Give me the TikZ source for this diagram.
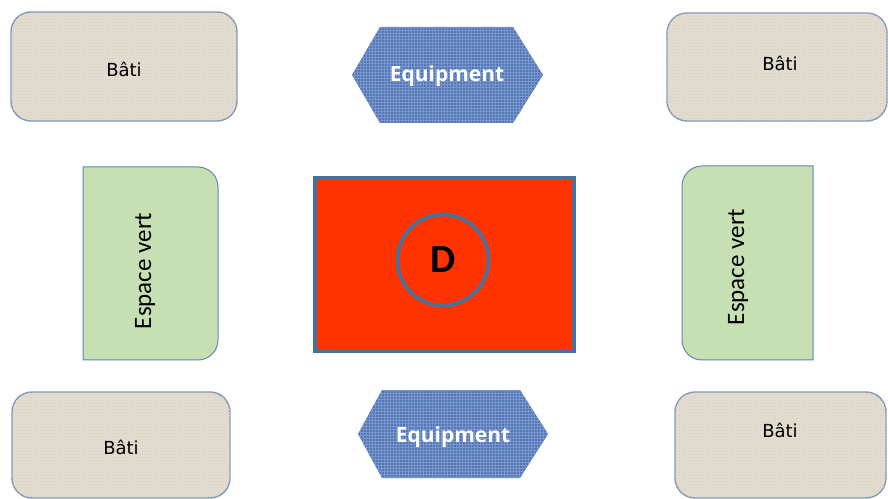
\documentclass[tikz,border=0pt]{standalone}
\usepackage{fontspec}
\setmainfont{DejaVu Sans}
\newfontfamily\carl{Carlito}
\newfontfamily\opens{Open Sans}
\usetikzlibrary{patterns}
\definecolor{batifill}{HTML}{E4DED2}
\definecolor{batidots}{HTML}{D3CBBB}
\definecolor{batiline}{HTML}{7F97BA}
\definecolor{vertfill}{HTML}{C6E0B4}
\definecolor{vertline}{HTML}{5F88B6}
\definecolor{equipfill}{HTML}{5276B6}
\definecolor{equipgrid}{HTML}{7A97CC}
\definecolor{redfill}{HTML}{FF3300}
\definecolor{blueline}{HTML}{44729F}
\begin{document}
\begin{tikzpicture}[x=1pt,y=1pt,
  bati/.style={draw=batiline, line width=1.4pt, fill=batifill, rounded corners=20pt,
    postaction={pattern=crosshatch dots, pattern color=batidots}},
  batitext/.style={font=\fontsize{18}{20}\selectfont, text=black},
  vert/.style={draw=vertline, line width=1pt, fill=vertfill},
  verttext/.style={font=\carl\fontsize{25}{28}\selectfont, text=black, rotate=90},
  equip/.style={fill=equipfill, postaction={pattern=grid, pattern color=equipgrid}},
  equiptext/.style={font=\opens\bfseries\fontsize{21}{23}\selectfont, text=white},
  redbox/.style={draw=blueline, line width=4pt, fill=redfill, minimum width=259pt, minimum height=173pt, inner sep=0pt},
  dcircle/.style={circle, draw=blueline, line width=3.6pt, minimum size=91pt, inner sep=0pt,
    font=\carl\bfseries\fontsize{40}{44}\selectfont, text=black}
]
\useasboundingbox (0,0) rectangle (888,498);
\fill[white] (0,0) rectangle (888,498);

% Bati boxes
\node[bati, minimum width=226pt, minimum height=109pt] (b1) at (124,431.5) {};
\node[batitext] (t1) at (124,429) {Bâti};
\node[bati, minimum width=220pt, minimum height=108pt] (b2) at (777,431) {};
\node[batitext] (t2) at (780,435) {Bâti};
\node[bati, minimum width=218pt, minimum height=106pt] (b3) at (121,53) {};
\node[batitext] (t3) at (121,51) {Bâti};
\node[bati, minimum width=211pt, minimum height=106pt] (b4) at (780.5,53) {};
\node[batitext] (t4) at (780,68) {Bâti};

% Espace vert
\draw[vert] (83,138) -- (83,331) -- (198,331) arc[start angle=90,end angle=0,radius=20pt]
  -- (218,158) arc[start angle=0,end angle=-90,radius=20pt] -- cycle;
\node[verttext] (v1) at (145,227) {Espace vert};
\draw[vert] (813,138) -- (813,332) -- (702,332) arc[start angle=90,end angle=180,radius=20pt]
  -- (682,158) arc[start angle=180,end angle=270,radius=20pt] -- cycle;
\node[verttext] (v2) at (738,231) {Espace vert};

% Equipment hexagons
\path[equip] (352,423) -- (380,471) -- (513,471) -- (543,423) -- (513,375) -- (380,375) -- cycle;
\node[equiptext] (e1) at (447,422) {Equipment};
\path[equip] (358,64) -- (382,108) -- (520,108) -- (548,64) -- (520,20) -- (382,20) -- cycle;
\node[equiptext] (e2) at (453,61) {Equipment};

% Central D
\node[redbox] (r) at (444.5,233.5) {};
\node[dcircle] (d) at (443,238) {D};
\end{tikzpicture}
\end{document}
